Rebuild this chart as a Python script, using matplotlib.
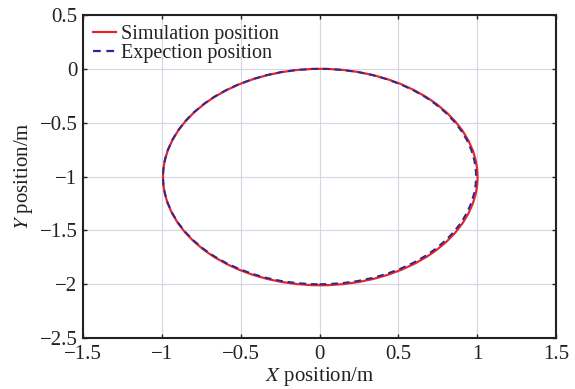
import matplotlib
matplotlib.use("Agg")
import matplotlib.pyplot as plt
from matplotlib.patches import Ellipse
from matplotlib.lines import Line2D

plt.rcParams['font.family'] = ['Liberation Serif', 'DejaVu Serif']
plt.rcParams['mathtext.fontset'] = 'stix'

# ellipse parameters: centre x, centre y, width, height
sim_center = (0.005, -1.005)
sim_size = (1.995, 2.01)
exp_center = (0.0, -1.0)
exp_size = (1.985, 2.0)

x_ticks = [-1.5, -1, -0.5, 0, 0.5, 1, 1.5]
x_labels = ['\u22121.5', '\u22121', '\u22120.5', '0', '0.5', '1', '1.5']
y_ticks = [0.5, 0, -0.5, -1, -1.5, -2, -2.5]
y_labels = ['0.5', '0', '\u22120.5', '\u22121', '\u22121.5', '\u22122', '\u22122.5']

red = '#e8262a'
blue = '#2a2a90'
dash = (0, (3.5, 2.5))

fig = plt.figure(figsize=(5.75, 3.89), dpi=100)
ax = fig.add_axes([83 / 575, 1 - 338 / 389, 473 / 575, 323 / 389])

ax.add_patch(Ellipse(sim_center, sim_size[0], sim_size[1], fill=False,
                     edgecolor=red, lw=1.6, zorder=3))
ax.add_patch(Ellipse(exp_center, exp_size[0], exp_size[1], fill=False,
                     edgecolor=blue, lw=1.4, ls=dash, zorder=4))

ax.set_xlim(-1.5, 1.5)
ax.set_ylim(-2.5, 0.5)
ax.set_xticks(x_ticks)
ax.set_xticklabels(x_labels)
ax.set_yticks(y_ticks)
ax.set_yticklabels(y_labels)
ax.grid(True, color='#d4d6e6', lw=0.8)
ax.set_axisbelow(True)
ax.tick_params(direction='in', top=True, right=True, length=3, width=1,
               labelsize=15, colors='#222222')
ax.tick_params(axis='x', pad=5)
ax.tick_params(axis='y', pad=4)
for s in ax.spines.values():
    s.set_linewidth(1.5)
    s.set_color('#222222')

ax.set_xlabel(r'$X$ position/m', fontsize=15, labelpad=1, color='#222222')
ax.set_ylabel(r'$Y$ position/m', fontsize=15, labelpad=3, color='#222222')

handles = [Line2D([], [], color=red, lw=1.6),
           Line2D([], [], color=blue, lw=1.6, ls=dash)]
ax.legend(handles, ['Simulation position', 'Expection position'],
          loc='upper left', frameon=False, fontsize=14.5, handlelength=1.15,
          handletextpad=0.25, labelspacing=0.0, borderaxespad=0.35,
          borderpad=0.15, labelcolor='#222222')

fig.savefig('out.png', dpi=100)
